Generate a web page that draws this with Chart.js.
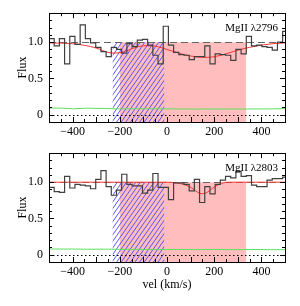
<!DOCTYPE html>
<html>
<head>
<meta charset="utf-8">
<script src="https://cdn.jsdelivr.net/npm/chart.js@4"></script>
<style>
body { margin: 0; background: #fff; }
#wrap { position: relative; width: 300px; height: 306px; }
canvas { position: absolute; left: 0; }
</style>
</head>
<body>
<div id="wrap">
	<canvas id="mg2796" width="300" height="140" style="top:0"></canvas>
	<canvas id="mg2803" width="300" height="166" style="top:140px"></canvas>
</div>
<script>
// velocity grid of the spectrum (left bin edges), km/s
const velStart = -500
const binWidth = 22

// normalised flux per pixel
const flux2796 = [1.05, 0.95, 1.05, 0.70, 1.08, 0.97, 1.24, 1.05, 0.99, 0.93, 0.87, 0.80,
	0.93, 0.90, 0.85, 0.98, 0.94, 1.03, 1.04, 0.96, 0.82, 0.70, 1.22,
	0.96, 0.86, 0.83, 0.82, 0.76, 0.80, 0.80, 0.95, 0.70, 0.84, 0.83, 0.82, 0.75,
	0.90, 0.84, 1.08, 0.95, 0.96, 0.94, 0.93, 0.89, 1.00, 1.15]
const flux2803 = [0.93, 0.87, 0.86, 1.08, 0.92, 0.97, 0.96, 0.95, 0.91, 1.04, 1.16, 0.94,
	0.82, 0.89, 1.11, 0.97, 0.95, 0.95, 0.85, 0.89, 1.12, 0.93, 0.93,
	0.76, 0.99, 0.99, 0.97, 0.88, 1.04, 0.72, 0.94, 0.84, 0.97, 1.03, 1.08, 1.06,
	1.15, 1.08, 1.09, 0.96, 0.94, 0.94, 1.03, 1.05, 1.05, 1.07]

// fitted model
const modelVel2796 = [-500, -400, -300, -250, -220, -180, -140, -100, -60, -20, 20, 60, 100, 160, 200, 250, 300, 350, 400, 450, 500]
const model2796 = [0.99, 0.98, 0.92, 0.86, 0.85, 0.87, 0.92, 0.95, 0.95, 0.92, 0.88, 0.84, 0.81, 0.79, 0.80, 0.84, 0.89, 0.93, 0.96, 0.98, 0.99]
const modelVel2803 = [-500, -200, 0, 40, 80, 110, 130, 150, 170, 190, 220, 260, 500]
const model2803 = [1.00, 1.00, 1.00, 0.99, 0.96, 0.91, 0.86, 0.84, 0.86, 0.91, 0.97, 1.00, 1.00]

// error spectrum
const errVel = [-500, -440, -400, -340, -260, -200, -120, -40, 40, 120, 200, 280, 360, 440, 500]
const err2796 = [0.093, 0.090, 0.082, 0.090, 0.086, 0.080, 0.084, 0.082, 0.080, 0.078, 0.080, 0.079, 0.080, 0.081, 0.085]
const err2803 = [0.080, 0.078, 0.079, 0.076, 0.077, 0.075, 0.074, 0.072, 0.073, 0.071, 0.073, 0.071, 0.072, 0.070, 0.070]

// velocity windows
const fitRange = [-200, 335]
const hatchRange = [-230, -12]
const continuum = 1

const xTicks = [-400, -200, 0, 200, 400]
const yTicks = [0, 0.5, 1]

const font = { family: 'Liberation Serif', size: 12 }

function histPoints(flux) {
	const pts = flux.map((f, i) => ({ x: velStart + i * binWidth, y: f }))
	pts.push({ x: velStart + flux.length * binWidth, y: flux[flux.length - 1] })
	return pts
}

function pairs(xs, ys) {
	return xs.map((v, i) => ({ x: v, y: ys[i] }))
}

const decor = {
	id: 'decor',
	beforeDatasetsDraw(chart, args, opts) {
		const { ctx, chartArea: a, scales: { x, y } } = chart
		const top1 = y.getPixelForValue(continuum)
		ctx.save()
		ctx.beginPath()
		ctx.rect(a.left, a.top, a.width, a.height)
		ctx.clip()

		// fitted window
		const fx0 = x.getPixelForValue(fitRange[0])
		const fx1 = x.getPixelForValue(fitRange[1])
		ctx.fillStyle = '#ffbdbd'
		ctx.fillRect(fx0, top1, fx1 - fx0, a.bottom - top1)

		// hatched window
		const hx0 = x.getPixelForValue(hatchRange[0])
		const hx1 = x.getPixelForValue(hatchRange[1])
		const h = a.bottom - top1
		ctx.save()
		ctx.beginPath()
		ctx.rect(hx0, top1, hx1 - hx0, h)
		ctx.clip()
		ctx.strokeStyle = '#4646ff'
		ctx.lineWidth = 0.9
		ctx.beginPath()
		for (let s = hx0 - h * 0.7; s < hx1 + 2; s += 4.6) {
			ctx.moveTo(s, a.bottom)
			ctx.lineTo(s + h * 0.7, top1)
		}
		ctx.stroke()
		ctx.restore()

		// continuum and zero level
		ctx.lineWidth = 1
		ctx.strokeStyle = '#666'
		ctx.setLineDash([7, 4])
		ctx.beginPath()
		ctx.moveTo(a.left, Math.round(top1) + 0.5)
		ctx.lineTo(a.right, Math.round(top1) + 0.5)
		ctx.stroke()
		const zero = Math.round(y.getPixelForValue(0)) + 0.5
		ctx.strokeStyle = '#000'
		ctx.setLineDash([1.5, 2.5])
		ctx.beginPath()
		ctx.moveTo(a.left, zero)
		ctx.lineTo(a.right, zero)
		ctx.stroke()
		ctx.restore()
	},
	afterDatasetsDraw(chart, args, opts) {
		const { ctx, chartArea: a, scales: { x, y } } = chart
		ctx.save()
		ctx.strokeStyle = '#000'
		ctx.lineWidth = 1
		ctx.strokeRect(Math.round(a.left) + 0.5, Math.round(a.top) + 0.5, Math.round(a.width), Math.round(a.height))

		ctx.beginPath()
		for (let v = -500; v <= 500; v += 50) {
			const px = Math.round(x.getPixelForValue(v)) + 0.5
			const len = v % 100 === 0 ? 5 : 3
			ctx.moveTo(px, a.bottom); ctx.lineTo(px, a.bottom - len)
			ctx.moveTo(px, a.top); ctx.lineTo(px, a.top + len)
		}
		for (let k = -1; k <= 14; k++) {
			const py = Math.round(y.getPixelForValue(k / 10)) + 0.5
			const len = k % 5 === 0 ? 5 : 3
			ctx.moveTo(a.left, py); ctx.lineTo(a.left + len, py)
			ctx.moveTo(a.right, py); ctx.lineTo(a.right - len, py)
		}
		ctx.stroke()

		ctx.fillStyle = '#000'
		ctx.font = '11px "Liberation Serif"'
		ctx.textAlign = 'right'
		ctx.textBaseline = 'alphabetic'
		ctx.fillText(opts.label, a.right - 7, a.top + 18)
		ctx.restore()
	}
}

function makePanel(id, flux, modelVel, model, err, label, isBottom) {
	return new Chart(id, {
		type: 'line',
		data: {
			datasets: [
				{ data: pairs(errVel, err), borderColor: '#5ee05e', borderWidth: 1, pointRadius: 0 },
				{ data: histPoints(flux), stepped: true, borderColor: '#404040', borderWidth: 1.2, pointRadius: 0 },
				{ data: pairs(modelVel, model), borderColor: '#ff3535', borderWidth: 1, pointRadius: 0, cubicInterpolationMode: 'monotone' }
			]
		},
		options: {
			responsive: false,
			animation: false,
			layout: { padding: { top: 8, right: 15, bottom: 0, left: 0 } },
			plugins: {
				legend: { display: false },
				tooltip: { enabled: false },
				decor: { label: label }
			},
			scales: {
				x: {
					type: 'linear', min: -500, max: 500,
					afterBuildTicks: (s) => { s.ticks = xTicks.map((v) => ({ value: v })) },
					afterFit: (s) => { s.height = isBottom ? 44 : 18 },
					grid: { display: false, drawTicks: false },
					border: { display: false },
					ticks: { font: font, color: '#000', padding: 3, maxRotation: 0, callback: (v) => String(v).replace('-', '\u2212') },
					title: { display: isBottom, text: 'vel (km/s)', font: font, color: '#000', padding: { top: 0, bottom: 14 } }
				},
				y: {
					min: -0.1, max: 1.4,
					afterBuildTicks: (s) => { s.ticks = yTicks.map((v) => ({ value: v })) },
					afterFit: (s) => { s.width = 49 },
					grid: { display: false, drawTicks: false },
					border: { display: false },
					ticks: { font: font, color: '#000', padding: 6 },
					title: { display: true, text: 'Flux', font: font, color: '#000', padding: { top: 16, bottom: 0 } }
				}
			}
		},
		plugins: [decor]
	})
}

makePanel('mg2796', flux2796, modelVel2796, model2796, err2796, 'MgII \u03bb2796', false)
makePanel('mg2803', flux2803, modelVel2803, model2803, err2803, 'MgII \u03bb2803', true)
</script>
</body>
</html>
